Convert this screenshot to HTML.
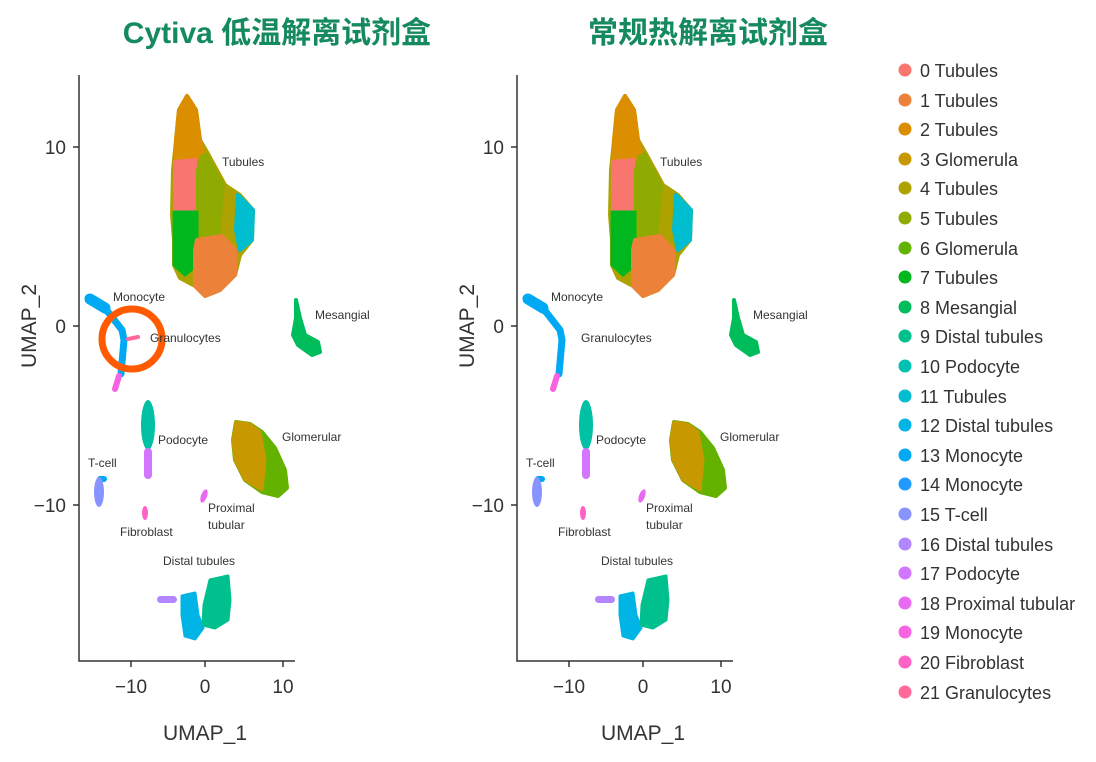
<!DOCTYPE html>
<html><head><meta charset="utf-8"><style>
body{margin:0;background:#fff;width:1096px;height:757px;overflow:hidden;font-family:"Liberation Sans","Noto Sans CJK SC",sans-serif}
svg text{font-family:"Liberation Sans","Noto Sans CJK SC",sans-serif}
</style></head><body>
<svg width="1096" height="757" viewBox="0 0 1096 757">
<defs>
<g id="pl">
 <path d="M187,96 L196,110 L200,140 L207,152 L225,185 L240,195 L253,210 L252,240 L240,255 L235,275 L220,290 L205,296 L195,286 L180,278 L174,265 L174,240 L172,215 L173,170 L176,140 L179,110Z" fill="#AEA200" stroke="#AEA200" stroke-width="4" stroke-linejoin="round"/>
 <path d="M187,96 L196,110 L200,140 L205,160 L176,160 L176,140 L179,110Z" fill="#DB8E00" stroke="#DB8E00" stroke-width="4" stroke-linejoin="round"/>
 <path d="M173,160 L197,158 L198,212 L173,212Z" fill="#F8766D"/>
 <path d="M200,155 L207,152 L225,185 L220,240 L196,240 L196,170Z" fill="#8FAA00"/>
 <path d="M238,195 L253,210 L252,240 L240,250 L236,230Z" fill="#00BDD0" stroke="#00BDD0" stroke-width="4" stroke-linejoin="round"/>
 <path d="M174,212 L197,212 L197,265 L185,275 L174,265Z" fill="#00B81D" stroke="#00B81D" stroke-width="3" stroke-linejoin="round"/>
 <path d="M197,240 L222,236 L235,250 L235,275 L220,290 L205,296 L195,286 L195,250Z" fill="#EC8239" stroke="#EC8239" stroke-width="4" stroke-linejoin="round"/>
 <path d="M90,299 L105,308" stroke="#00A9F4" stroke-width="11" fill="none" stroke-linecap="round"/>
 <path d="M88,298 L108,312 L122,330 L124,340 L121,374" stroke="#00A9F4" stroke-width="7" fill="none" stroke-linecap="round"/>
 <path d="M119,376 L115,389" stroke="#F763E0" stroke-width="6" fill="none" stroke-linecap="round"/>
 <path d="M296,300 L300,318 L305,335 L318,342 L320,352 L312,355 L298,345 L293,335 L296,318Z" fill="#00BD5C" stroke="#00BD5C" stroke-width="4" stroke-linejoin="round"/>
 <ellipse cx="148" cy="425" rx="7" ry="25" fill="#00C1A3"/>
 <rect x="144" y="448" width="8" height="31" rx="4" fill="#D376FF"/>
 <rect x="97" y="476" width="10" height="6" rx="3" fill="#00A9F4"/>
 <ellipse cx="99" cy="492" rx="5" ry="15" fill="#8794FF"/>
 <ellipse cx="145" cy="513" rx="3" ry="7" fill="#FF61C5"/>
 <ellipse cx="204" cy="496" rx="3" ry="7" fill="#E86AF0" transform="rotate(20 204 496)"/>
 <path d="M236,422 L250,424 L262,432 L275,448 L285,470 L287,488 L278,496 L262,492 L245,480 L235,460 L233,440Z" fill="#64B200" stroke="#64B200" stroke-width="4" stroke-linejoin="round"/>
 <path d="M236,422 L250,424 L260,432 L265,460 L262,490 L245,480 L235,460 L233,440Z" fill="#C79800" stroke="#C79800" stroke-width="3" stroke-linejoin="round"/>
 <rect x="157" y="596" width="20" height="7" rx="3.5" fill="#B385FF"/>
 <path d="M182,596 L195,593 L198,615 L203,628 L195,639 L185,636 L182,615Z" fill="#00B5E6" stroke="#00B5E6" stroke-width="3" stroke-linejoin="round"/>
 <path d="M210,580 L228,576 L230,600 L228,620 L215,628 L203,625 L204,605Z" fill="#00C08D" stroke="#00C08D" stroke-width="3" stroke-linejoin="round"/>
</g>
</defs>

<text x="277" y="43" text-anchor="middle" font-size="30" font-weight="bold" fill="#158A5E">Cytiva 低温解离试剂盒</text>
<text x="708" y="43" text-anchor="middle" font-size="30" font-weight="bold" fill="#158A5E">常规热解离试剂盒</text>

<use href="#pl"/>
<circle cx="132" cy="339" r="30" fill="none" stroke="#FF5A00" stroke-width="7"/>
<path d="M128,339 L138,337" stroke="#FF6A98" stroke-width="4" stroke-linecap="round"/>
<g fill="#333" font-size="12">
<text x="222" y="166">Tubules</text><text x="113" y="301">Monocyte</text><text x="315" y="319">Mesangial</text>
<text x="150" y="342">Granulocytes</text><text x="158" y="444">Podocyte</text><text x="282" y="441">Glomerular</text>
<text x="88" y="467">T-cell</text><text x="208" y="512">Proximal</text><text x="208" y="529">tubular</text>
<text x="120" y="536">Fibroblast</text><text x="163" y="565">Distal tubules</text></g>
<path d="M79,75 V661 H295" stroke="#333" stroke-width="1.5" fill="none"/>
<path d="M73,147 H79 M73,326 H79 M73,505 H79 M131,661 V667 M205,661 V667 M283,661 V667" stroke="#333" stroke-width="1.5"/>
<g font-size="19" fill="#333" text-anchor="end"><text x="66" y="154">10</text><text x="66" y="333">0</text><text x="66" y="512">−10</text></g>
<g font-size="19" fill="#333" text-anchor="middle"><text x="131" y="693">−10</text><text x="205" y="693">0</text><text x="283" y="693">10</text></g>
<text x="205" y="740" text-anchor="middle" font-size="21" fill="#333">UMAP_1</text>
<text transform="translate(36,326) rotate(-90)" text-anchor="middle" font-size="21" fill="#333">UMAP_2</text>

<use href="#pl" transform="translate(438,0)"/>
<g fill="#333" font-size="12">
<text x="660" y="166">Tubules</text><text x="551" y="301">Monocyte</text><text x="753" y="319">Mesangial</text>
<text x="581" y="342">Granulocytes</text><text x="596" y="444">Podocyte</text><text x="720" y="441">Glomerular</text>
<text x="526" y="467">T-cell</text><text x="646" y="512">Proximal</text><text x="646" y="529">tubular</text>
<text x="558" y="536">Fibroblast</text><text x="601" y="565">Distal tubules</text></g>
<path d="M517,75 V661 H733" stroke="#333" stroke-width="1.5" fill="none"/>
<path d="M511,147 H517 M511,326 H517 M511,505 H517 M569,661 V667 M643,661 V667 M721,661 V667" stroke="#333" stroke-width="1.5"/>
<g font-size="19" fill="#333" text-anchor="end"><text x="504" y="154">10</text><text x="504" y="333">0</text><text x="504" y="512">−10</text></g>
<g font-size="19" fill="#333" text-anchor="middle"><text x="569" y="693">−10</text><text x="643" y="693">0</text><text x="721" y="693">10</text></g>
<text x="643" y="740" text-anchor="middle" font-size="21" fill="#333">UMAP_1</text>
<text transform="translate(474,326) rotate(-90)" text-anchor="middle" font-size="21" fill="#333">UMAP_2</text>

<g font-size="18" fill="#333">
<circle cx="905" cy="70" r="6.5" fill="#F8766D"/><text x="920" y="77">0 Tubules</text>
<circle cx="905" cy="100" r="6.5" fill="#EC8239"/><text x="920" y="107">1 Tubules</text>
<circle cx="905" cy="129" r="6.5" fill="#DB8E00"/><text x="920" y="136">2 Tubules</text>
<circle cx="905" cy="159" r="6.5" fill="#C79800"/><text x="920" y="166">3 Glomerula</text>
<circle cx="905" cy="188" r="6.5" fill="#AEA200"/><text x="920" y="195">4 Tubules</text>
<circle cx="905" cy="218" r="6.5" fill="#8FAA00"/><text x="920" y="225">5 Tubules</text>
<circle cx="905" cy="248" r="6.5" fill="#64B200"/><text x="920" y="255">6 Glomerula</text>
<circle cx="905" cy="277" r="6.5" fill="#00B81D"/><text x="920" y="284">7 Tubules</text>
<circle cx="905" cy="307" r="6.5" fill="#00BD5C"/><text x="920" y="314">8 Mesangial</text>
<circle cx="905" cy="336" r="6.5" fill="#00C08D"/><text x="920" y="343">9 Distal tubules</text>
<circle cx="905" cy="366" r="6.5" fill="#00C1B2"/><text x="920" y="373">10 Podocyte</text>
<circle cx="905" cy="396" r="6.5" fill="#00BDD0"/><text x="920" y="403">11 Tubules</text>
<circle cx="905" cy="425" r="6.5" fill="#00B5E6"/><text x="920" y="432">12 Distal tubules</text>
<circle cx="905" cy="455" r="6.5" fill="#00A9F4"/><text x="920" y="462">13 Monocyte</text>
<circle cx="905" cy="484" r="6.5" fill="#1F9BFF"/><text x="920" y="491">14 Monocyte</text>
<circle cx="905" cy="514" r="6.5" fill="#8794FF"/><text x="920" y="521">15 T-cell</text>
<circle cx="905" cy="544" r="6.5" fill="#B385FF"/><text x="920" y="551">16 Distal tubules</text>
<circle cx="905" cy="573" r="6.5" fill="#D376FF"/><text x="920" y="580">17 Podocyte</text>
<circle cx="905" cy="603" r="6.5" fill="#E86AF0"/><text x="920" y="610">18 Proximal tubular</text>
<circle cx="905" cy="632" r="6.5" fill="#F763E0"/><text x="920" y="639">19 Monocyte</text>
<circle cx="905" cy="662" r="6.5" fill="#FF61C5"/><text x="920" y="669">20 Fibroblast</text>
<circle cx="905" cy="692" r="6.5" fill="#FF6A98"/><text x="920" y="699">21 Granulocytes</text>
</g>
</svg>
</body></html>
